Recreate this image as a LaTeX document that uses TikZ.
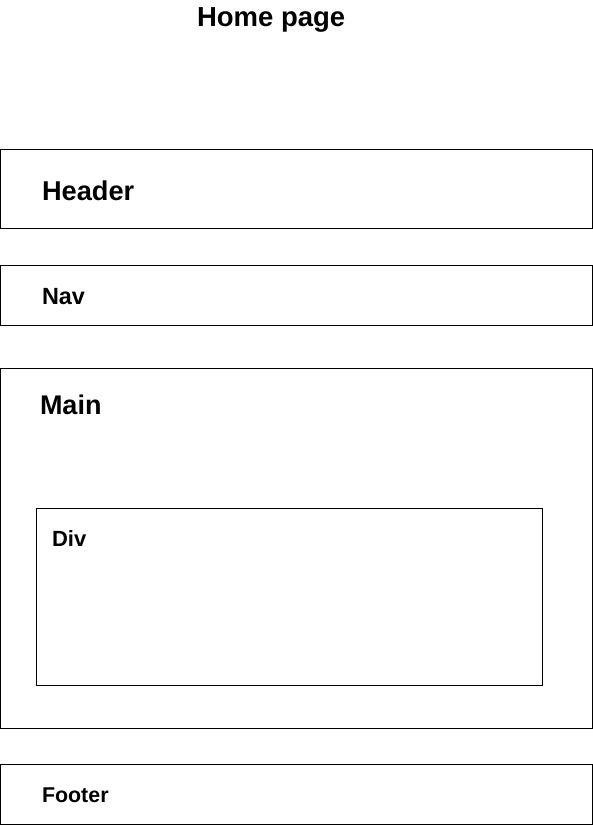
\documentclass[tikz,border=0pt]{standalone}
\usepackage{fontspec}
\setmainfont{Liberation Sans}
\begin{document}
\begin{tikzpicture}[x=1pt,y=-1pt,
  box/.style={draw=black, line width=1pt, anchor=north west, inner sep=0pt, outer sep=0pt},
  lbl/.style={anchor=base west, inner sep=0pt, outer sep=0pt, font=\bfseries},
  ]
\useasboundingbox (0,0) rectangle (593,825);
\node[lbl, font=\fontsize{27.5}{31}\selectfont\bfseries] (title) at (197,26.5) {Home page};
\node[box, minimum width=592pt, minimum height=79pt] (header) at (0.5,149.5) {};
\node[lbl, font=\fontsize{27.2}{31}\selectfont\bfseries] (headerlbl) at (42,200) {Header};
\node[box, minimum width=592pt, minimum height=60pt] (nav) at (0.5,265.5) {};
\node[lbl, font=\fontsize{23.4}{27}\selectfont\bfseries] (navlbl) at (42,304) {Nav};
\node[box, minimum width=592pt, minimum height=360pt] (main) at (0.5,368.5) {};
\node[lbl, font=\fontsize{27}{31}\selectfont\bfseries] (mainlbl) at (40,414) {Main};
\node[box, minimum width=506pt, minimum height=177pt] (div) at (36.5,508.5) {};
\node[lbl, font=\fontsize{22}{26}\selectfont\bfseries] (divlbl) at (52,546.5) {Div};
\node[box, minimum width=592pt, minimum height=60pt] (footer) at (0.5,764.5) {};
\node[lbl, font=\fontsize{21.4}{25}\selectfont\bfseries] (footerlbl) at (42,802.5) {Footer};
\end{tikzpicture}
\end{document}
